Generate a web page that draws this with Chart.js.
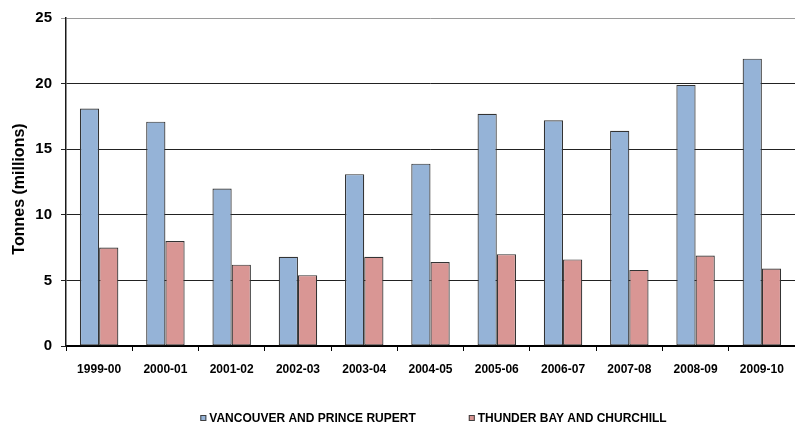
<!DOCTYPE html>
<html>
<head>
<meta charset="utf-8">
<script src="https://cdn.jsdelivr.net/npm/chart.js@4"></script>
<style>
  html, body { margin: 0; padding: 0; background: #fff; }
  #wrap { width: 795px; height: 424px; position: relative; }
</style>
</head>
<body>
<div id="wrap"><canvas id="c" width="795" height="424"></canvas></div>
<script>
// Crop years
const seasons = ['1999-00', '2000-01', '2001-02', '2002-03', '2003-04', '2004-05',
                 '2005-06', '2006-07', '2007-08', '2008-09', '2009-10'];
// Tonnes (millions) shipped through each port group
const westCoast = [18.1, 17.1, 12.0, 6.8, 13.1, 13.9, 17.7, 17.2, 16.4, 19.9, 21.9];
const eastPorts = [7.5, 8.0, 6.2, 5.4, 6.8, 6.4, 7.0, 6.6, 5.8, 6.9, 5.9];
const seriesNames = ['VANCOUVER AND PRINCE RUPERT', 'THUNDER BAY AND CHURCHILL'];
const yTicks = [0, 5, 10, 15, 20, 25];
const yTitle = 'Tonnes (millions)';

const FONT = '"Liberation Sans", Arial, sans-serif';

// Vertical axis title, centred a little below the middle of the plot
const axisTitle = {
  id: 'axisTitle',
  afterDraw(chart) {
    const ctx = chart.ctx;
    const area = chart.chartArea;
    ctx.save();
    ctx.translate(20, (area.top + area.bottom) / 2 + 7);
    ctx.rotate(-Math.PI / 2);
    ctx.font = 'bold 16px ' + FONT;
    ctx.fillStyle = '#000';
    ctx.textAlign = 'center';
    ctx.textBaseline = 'middle';
    ctx.fillText(yTitle, 0, 0);
    ctx.restore();
  }
};

// Legend drawn under the axis labels, boxes with a thin dark outline
const bottomLegend = {
  id: 'bottomLegend',
  afterDraw(chart) {
    const ctx = chart.ctx;
    const ds = chart.data.datasets;
    ctx.save();
    ctx.font = 'bold 12px ' + FONT;
    const box = 6, gapBox = 3, gapItem = 53;
    const widths = ds.map(d => box + gapBox + ctx.measureText(d.label).width);
    const total = widths.reduce((a, b) => a + b, 0) + gapItem * (ds.length - 1);
    const area = chart.chartArea;
    let x = (area.left + area.right) / 2 - total / 2 + 3;
    const y = 415;
    ds.forEach((d, i) => {
      ctx.fillStyle = d.backgroundColor;
      ctx.fillRect(x, y, box, box);
      ctx.strokeStyle = '#404040';
      ctx.lineWidth = 1;
      ctx.strokeRect(x + 0.5, y + 0.5, box - 1, box - 1);
      ctx.fillStyle = '#000';
      ctx.textBaseline = 'alphabetic';
      ctx.textAlign = 'left';
      ctx.fillText(d.label, x + box + gapBox, y + 7);
      x += widths[i] + gapItem;
    });
    ctx.restore();
  }
};

new Chart(document.getElementById('c'), {
  type: 'bar',
  data: {
    labels: seasons,
    datasets: [
      {
        label: seriesNames[0],
        data: westCoast,
        backgroundColor: '#95B3D7',
        borderColor: '#333',
        borderWidth: 1.2,
        borderSkipped: false
      },
      {
        label: seriesNames[1],
        data: eastPorts,
        backgroundColor: '#D99694',
        borderColor: '#333',
        borderWidth: 1.2,
        borderSkipped: false
      }
    ]
  },
  options: {
    responsive: false,
    animation: false,
    devicePixelRatio: 1,
    layout: { padding: { top: 18, left: 0, right: 0, bottom: 0 } },
    datasets: { bar: { categoryPercentage: 0.58, barPercentage: 1.0 } },
    plugins: {
      legend: { display: false },
      tooltip: { enabled: false }
    },
    scales: {
      x: {
        afterFit(scale) { scale.height = 78; },
        grid: {
          display: true,
          drawOnChartArea: false,
          drawTicks: true,
          tickLength: 5,
          color: '#000'
        },
        border: { display: true, color: '#000', width: 2 },
        ticks: {
          color: '#000',
          padding: 11,
          maxRotation: 0,
          font: { family: FONT, size: 12, weight: 'bold' }
        }
      },
      y: {
        min: 0,
        max: 25,
        afterFit(scale) { scale.width = 66; },
        afterBuildTicks(scale) { scale.ticks = yTicks.map(v => ({ value: v })); },
        grid: {
          drawTicks: true,
          tickLength: 5,
          lineWidth: 1,
          color: ctx => (ctx.tick && ctx.tick.value === 25) ? '#9a9a9a' : '#222'
        },
        border: { display: true, color: '#1a1a1a', width: 1.5 },
        ticks: {
          color: '#000',
          padding: 9,
          font: { family: FONT, size: 15, weight: 'bold' }
        }
      }
    }
  },
  plugins: [axisTitle, bottomLegend]
});
</script>
</body>
</html>
